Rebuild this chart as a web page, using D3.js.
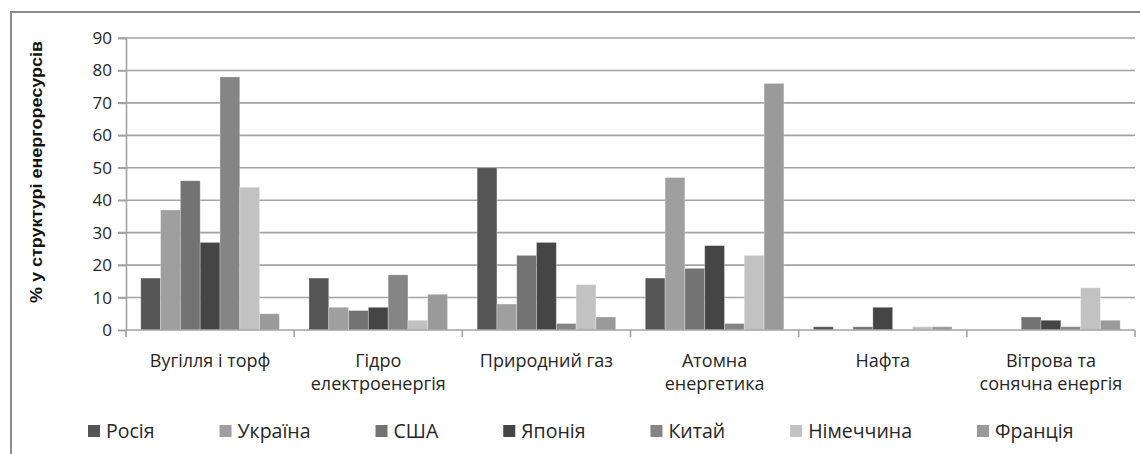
<!DOCTYPE html>
<html>
<head>
<meta charset="utf-8">
<script src="https://cdn.jsdelivr.net/npm/d3@7"></script>
<style>
  body { margin: 0; background: #fff; }
  svg { display: block; font-family: "Open Sans", "Liberation Sans", sans-serif; }
</style>
</head>
<body>
<div id="chart"></div>
<script>
// Energy sources (x categories), each label split into lines
const categories = [
    ['Вугілля і торф'],
    ['Гідро', 'електроенергія'],
    ['Природний газ'],
    ['Атомна', 'енергетика'],
    ['Нафта'],
    ['Вітрова та', 'сонячна енергія']
];
const countries = ['Росія', 'Україна', 'США', 'Японія', 'Китай', 'Німеччина', 'Франція'];
const colors = ['#555555', '#9f9f9f', '#737373', '#454545', '#858585', '#c2c2c2', '#9a9a9a'];

// % share per country, one value per category
const russia  = [16, 16, 50, 16, 1, 0];
const ukraine = [37, 7, 8, 47, 0, 0];
const usa     = [46, 6, 23, 19, 1, 4];
const japan   = [27, 7, 27, 26, 7, 3];
const china   = [78, 17, 2, 2, 0, 1];
const germany = [44, 3, 14, 23, 1, 13];
const france  = [5, 11, 4, 76, 1, 3];
const series = [russia, ukraine, usa, japan, china, germany, france];

const yTicks = [0, 10, 20, 30, 40, 50, 60, 70, 80, 90];
const yTitle = '% у структурі енергоресурсів';

const W = 1140, H = 454;
const plot = { left: 126, right: 1135, top: 38, bottom: 330 };
const gridColor = '#a3a3a3';
const textColor = '#262626';

const svg = d3.select('#chart').append('svg')
    .attr('width', W).attr('height', H);

// outer frame (runs off the right and bottom edges)
svg.append('rect')
    .attr('x', 11).attr('y', 12)
    .attr('width', W + 20).attr('height', H + 20)
    .attr('fill', 'none').attr('stroke', '#8c8c8c').attr('stroke-width', 2);

const x0 = d3.scaleBand()
    .domain(d3.range(categories.length))
    .range([plot.left, plot.right]);

const pad = x0.bandwidth() * 0.088;
const x1 = d3.scaleBand()
    .domain(d3.range(countries.length))
    .range([pad, x0.bandwidth() - pad]);

const y = d3.scaleLinear().domain([0, 90]).range([plot.bottom, plot.top]);

// gridlines
svg.append('g')
    .selectAll('line')
    .data(yTicks.slice(1))
    .join('line')
    .attr('x1', plot.left - 8).attr('x2', plot.right)
    .attr('y1', d => y(d)).attr('y2', d => y(d))
    .attr('stroke', gridColor).attr('stroke-width', 1.6);

// y axis
const yAxis = svg.append('g')
    .attr('transform', `translate(${plot.left},0)`)
    .call(d3.axisLeft(y).tickValues(yTicks).tickSize(8).tickPadding(6));
yAxis.select('.domain').attr('stroke', gridColor).attr('stroke-width', 1.6);
yAxis.selectAll('.tick line').attr('stroke', gridColor).attr('stroke-width', 1.6);
yAxis.selectAll('.tick text')
    .attr('font-size', 17).attr('fill', textColor)
    .attr('font-family', '"Open Sans", sans-serif');

// bars
const groups = svg.append('g')
    .selectAll('g')
    .data(categories.map((c, i) => i))
    .join('g')
    .attr('transform', i => `translate(${x0(i)},0)`);

groups.selectAll('rect')
    .data(i => series.map((s, k) => ({ k, v: s[i] })))
    .join('rect')
    .attr('x', d => x1(d.k))
    .attr('width', x1.bandwidth())
    .attr('y', d => y(d.v))
    .attr('height', d => y(0) - y(d.v))
    .attr('fill', d => colors[d.k])
    .attr('stroke', 'rgba(255,255,255,0.35)')
    .attr('stroke-width', 0.8);

// x axis
const xAxis = svg.append('g')
    .attr('transform', `translate(0,${plot.bottom})`);
xAxis.append('line')
    .attr('x1', plot.left).attr('x2', plot.right)
    .attr('stroke', gridColor).attr('stroke-width', 1.6);
xAxis.selectAll('.cat-tick')
    .data(d3.range(categories.length + 1))
    .join('line')
    .attr('class', 'cat-tick')
    .attr('x1', i => i < categories.length ? x0(i) : plot.right)
    .attr('x2', i => i < categories.length ? x0(i) : plot.right)
    .attr('y1', 0).attr('y2', 7)
    .attr('stroke', gridColor).attr('stroke-width', 1.6);

xAxis.selectAll('.cat-label')
    .data(categories)
    .join('text')
    .attr('class', 'cat-label')
    .attr('text-anchor', 'middle')
    .attr('font-size', 18).attr('fill', textColor)
    .attr('transform', (d, i) => `translate(${x0(i) + x0.bandwidth() / 2},37)`)
    .selectAll('tspan')
    .data(d => d)
    .join('tspan')
    .attr('x', 0)
    .attr('dy', (d, j) => j === 0 ? 0 : 23)
    .text(d => d);

// y axis title
svg.append('text')
    .attr('transform', `translate(42,172) rotate(-90)`)
    .attr('text-anchor', 'middle')
    .attr('font-size', 16).attr('font-weight', 'bold').attr('fill', '#111')
    .attr('font-family', '"Liberation Sans", Arial, sans-serif')
    .attr('textLength', 262).attr('lengthAdjust', 'spacingAndGlyphs')
    .text(yTitle);

// legend
const legend = svg.append('g').attr('transform', 'translate(88,425)');
let lx = 0;
countries.forEach((name, k) => {
    const item = legend.append('g').attr('transform', `translate(${lx},0)`);
    item.append('rect')
        .attr('width', 12).attr('height', 12)
        .attr('fill', colors[k]);
    const t = item.append('text')
        .attr('x', 18).attr('y', 13)
        .attr('font-size', 19.5).attr('fill', textColor)
        .text(name);
    lx += 18 + t.node().getComputedTextLength() + 65;
});
</script>
</body>
</html>
